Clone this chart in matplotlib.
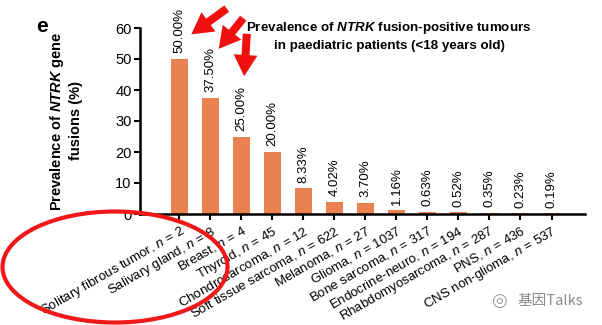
import matplotlib
matplotlib.use("Agg")
import matplotlib.pyplot as plt
from matplotlib.patches import Ellipse, FancyArrowPatch
import numpy as np

plt.rcParams['font.family'] = ['Liberation Sans', 'DejaVu Sans']
plt.rcParams['mathtext.fontset'] = 'custom'
plt.rcParams['mathtext.rm'] = 'Liberation Sans'
plt.rcParams['mathtext.it'] = 'Liberation Sans:italic'
plt.rcParams['mathtext.bf'] = 'Liberation Sans:bold'
plt.rcParams['mathtext.bfit'] = 'Liberation Sans:italic:bold'

tumours = ["Solitary fibrous tumor", "Salivary gland", "Breast", "Thyroid",
           "Chondrosarcoma", "Soft tissue sarcoma", "Melanoma", "Glioma",
           "Bone sarcoma", "Endocrine-neuro", "Rhabdomyosarcoma", "PNS",
           "CNS non-glioma"]
n_patients = [2, 8, 4, 45, 12, 622, 27, 1037, 317, 194, 287, 436, 537]
prevalence = [50.00, 37.50, 25.00, 20.00, 8.33, 4.02, 3.70, 1.16, 0.63,
              0.52, 0.35, 0.23, 0.19]
yticks = [0, 10, 20, 30, 40, 50, 60]

bar_color = '#EA8150'

fig = plt.figure(figsize=(6.02, 3.25), dpi=100)
ax = fig.add_axes([140/602, 1-214/325, (585-140)/602, (214-28)/325])

x = np.arange(len(tumours))
ax.bar(x, prevalence, width=0.55, color=bar_color, zorder=2)
for xi, v in zip(x, prevalence):
    ax.annotate(f"{v:.2f}%", (xi, v), xytext=(0, 4), textcoords='offset points',
                rotation=90, ha='center', va='bottom', fontsize=9.5)

ax.set_xlim(-1.27, 13.08)
ax.set_ylim(0, 60)
ax.set_yticks(yticks)
ax.tick_params(axis='y', labelsize=10.5, width=1.5, length=4, pad=2)
ax.set_xticks(x)
labels = [f"{t}, $n$ = {n}" for t, n in zip(tumours, n_patients)]
ax.set_xticklabels(labels, rotation=30, ha='right', rotation_mode='anchor',
                   fontsize=9.5)
ax.tick_params(axis='x', width=1.5, length=4, pad=3)
for s in ['top', 'right']:
    ax.spines[s].set_visible(False)
for s in ['left', 'bottom']:
    ax.spines[s].set_linewidth(1.8)

ax.set_ylabel("Prevalence of $\\mathbfit{NTRK}$ gene\nfusions (%)",
              fontsize=10.5, fontweight='bold', labelpad=23, linespacing=1.3)

fig.text(389/602, 1-36/325,
         "Prevalence of $\\mathbfit{NTRK}$ fusion-positive tumours\nin paediatric patients (<18 years old)",
         ha='center', va='center', fontsize=9.6, fontweight='bold',
         linespacing=1.5)
fig.text(36/602, 1-27/325, "e", fontsize=15, fontweight='bold',
         ha='left', va='center')

# red arrows
arrows = [((229, 7), (189, 36)), ((245, 16), (217, 51)), ((247, 31), (244, 79))]
for (tx, ty), (hx, hy) in arrows:
    fig.add_artist(FancyArrowPatch(
        (tx/602, 1-ty/325), (hx/602, 1-hy/325), transform=fig.transFigure,
        arrowstyle='simple,head_length=0.85,head_width=0.95,tail_width=0.32',
        mutation_scale=18, color='#F01010', lw=0))

# red ellipse
ell = Ellipse((115/100, (325-267)/100), 2.25, 1.11, angle=0,
              transform=fig.dpi_scale_trans, fill=False, edgecolor='#F01818',
              lw=3)
fig.add_artist(ell)

# watermark
fig.text(499/602, 1-301/325, "\u25CE", fontsize=13, color='#9a9a9a',
         ha='center', va='center', family=['DejaVu Sans'])
fig.text(518/602, 1-301/325, "基因Talks", fontsize=10.5, color='#8a8a8a',
         ha='left', va='center', family=['Noto Sans CJK SC', 'DejaVu Sans'])

fig.savefig("out.png", dpi=100)
